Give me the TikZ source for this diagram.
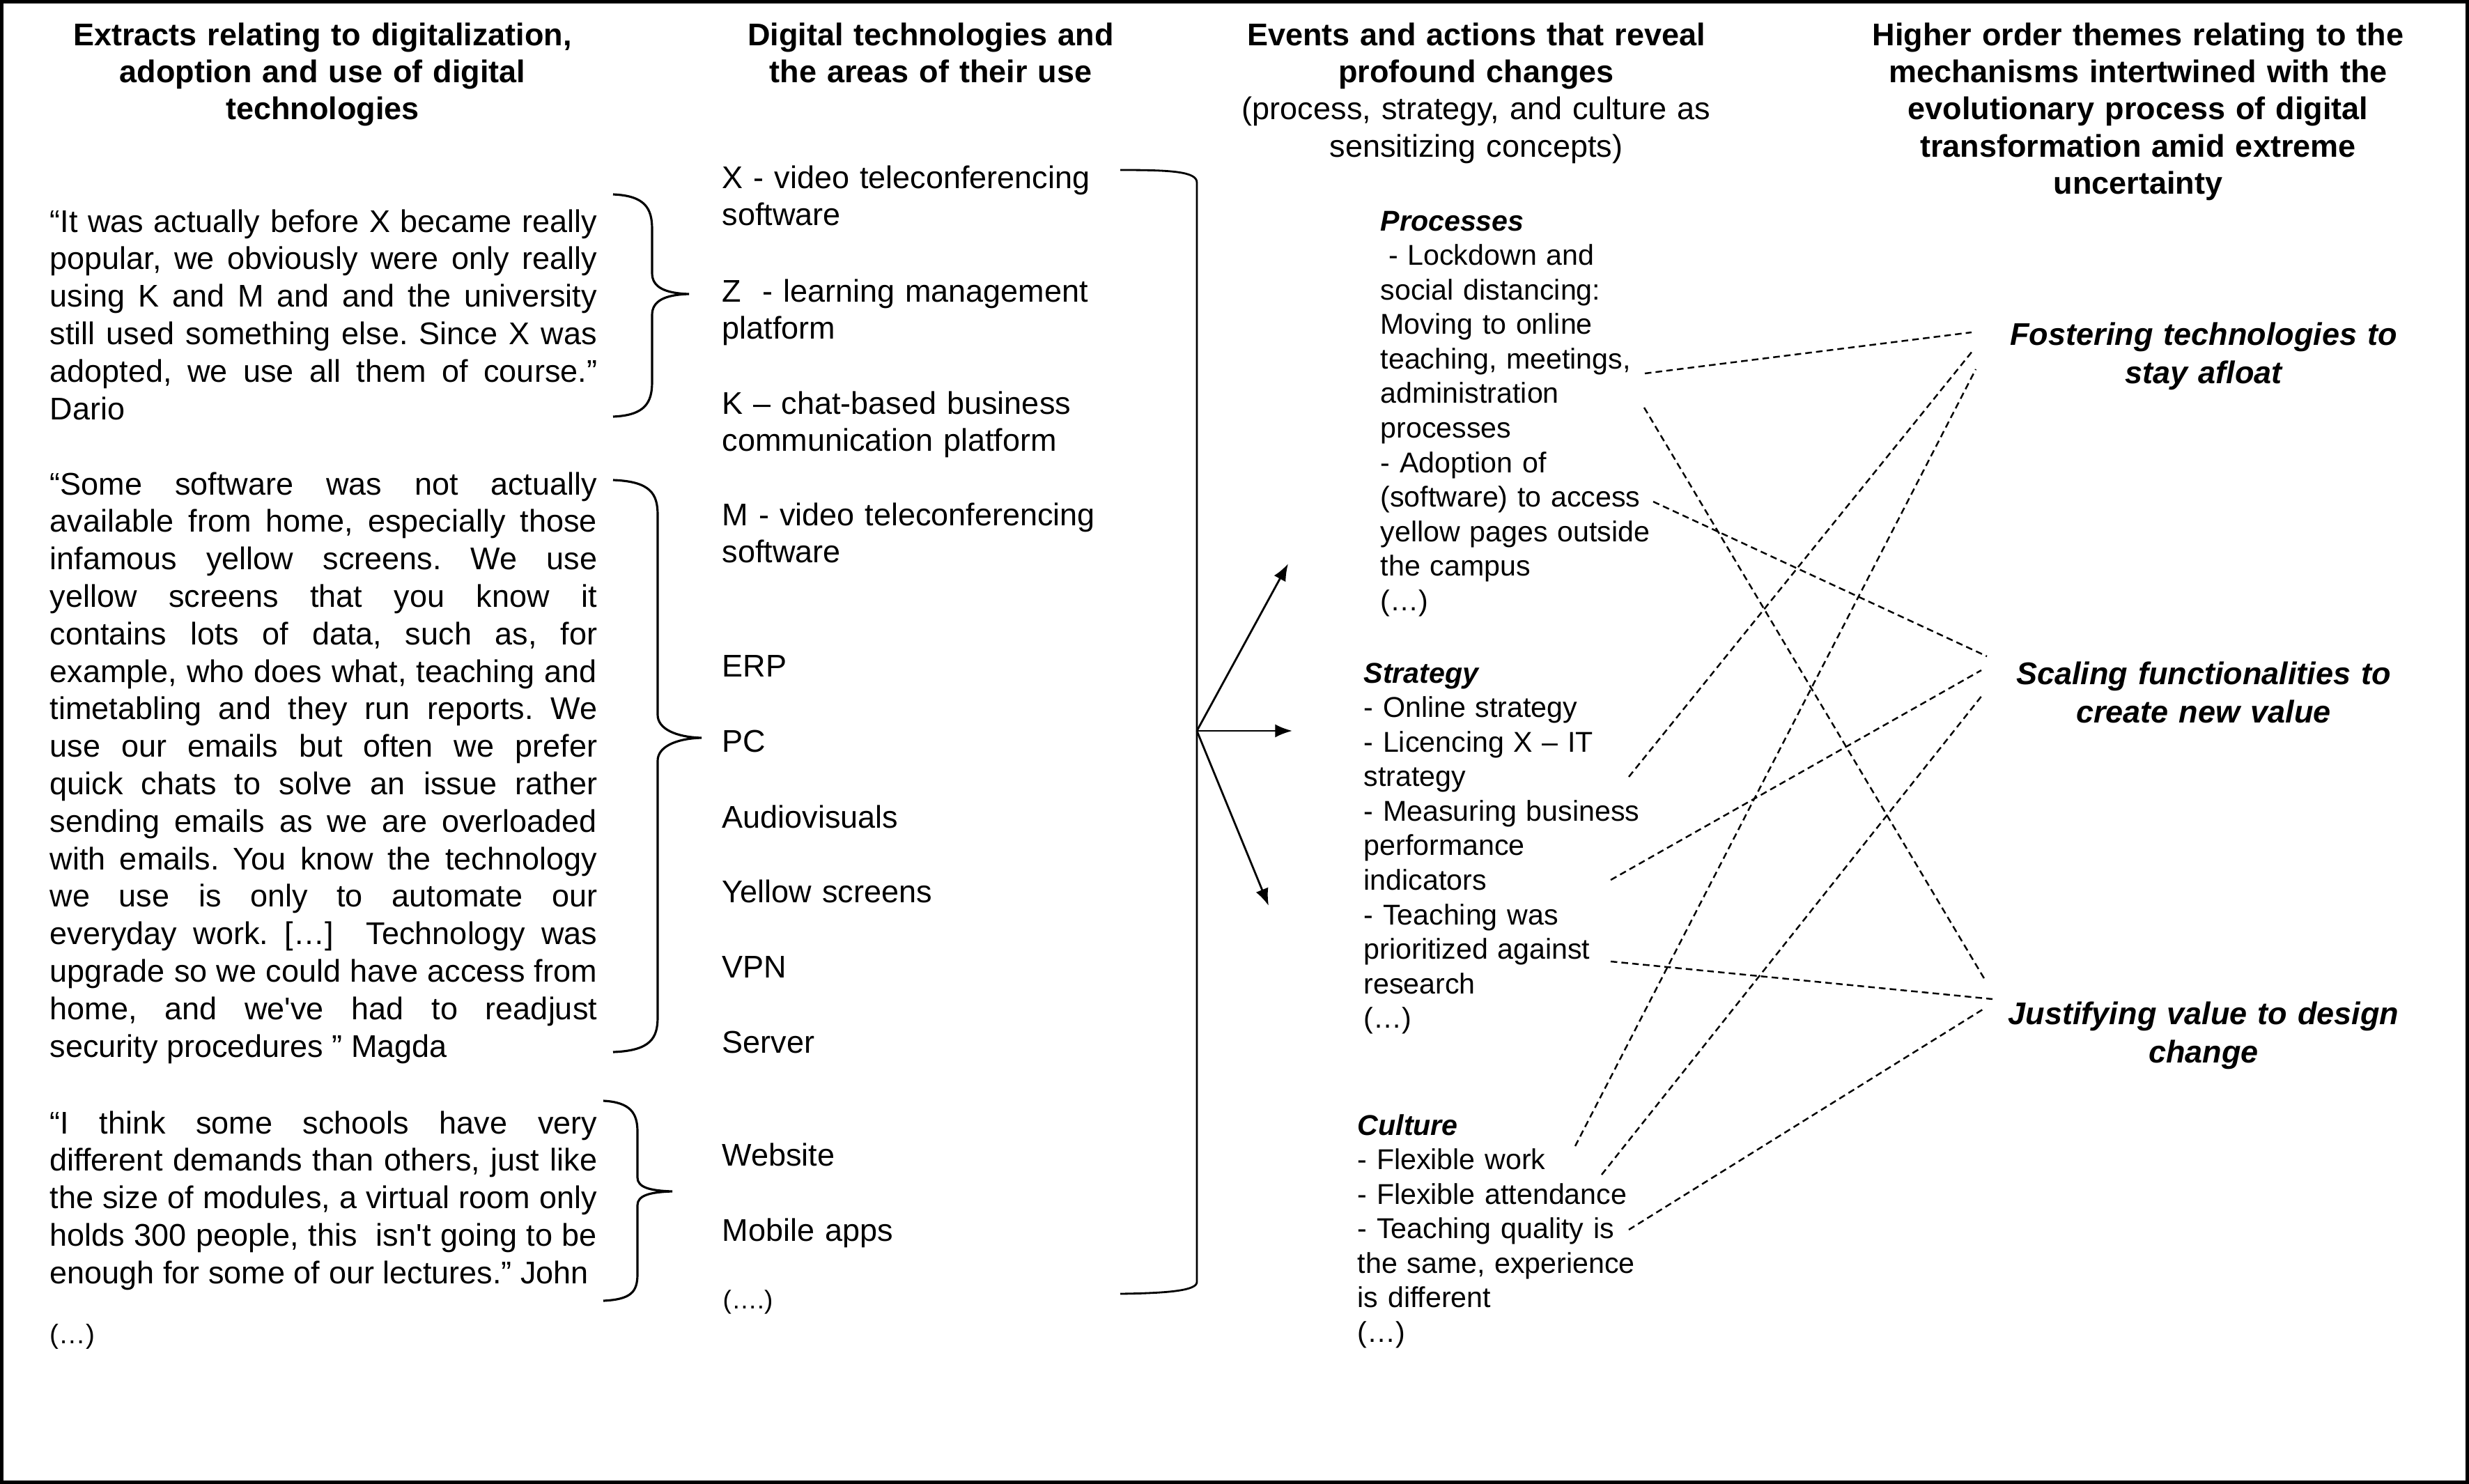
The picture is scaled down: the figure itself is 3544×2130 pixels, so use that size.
\documentclass[tikz,border=0pt]{standalone}
\usepackage{fontspec}
\setmainfont{Liberation Sans}
\usetikzlibrary{arrows.meta,positioning}
\frenchspacing
\tolerance=9999
\pretolerance=-1
\hyphenpenalty=10000
\tikzstyle{headtext} = [font=\fontsize{12.8}{15.2}\selectfont\bfseries, align=center,
    text width=9cm, anchor=base, inner sep=0pt]
\tikzstyle{quotebox} = [font=\fontsize{12.8}{15.3}\selectfont, align=justify,
    text width=7.85cm, anchor=base west, inner sep=0pt]
\tikzstyle{techitem} = [font=\fontsize{12.8}{15.1}\selectfont, align=left,
    text width=6cm, anchor=base west, inner sep=0pt]
\tikzstyle{eventbox} = [font=\fontsize{11.7}{14.1}\selectfont, align=left,
    text width=5cm, anchor=base west, inner sep=0pt]
\tikzstyle{themebox} = [font=\fontsize{12.8}{15.9}\selectfont\bfseries\itshape, align=center,
    text width=7cm, anchor=base, inner sep=0pt]
\tikzstyle{bracestroke} = [line width=0.9pt]
\tikzstyle{dashlink} = [line width=0.7pt, dash pattern=on 2.7pt off 1.7pt]
\tikzstyle{frame} = [line width=1.4pt]

\begin{document}
\begin{tikzpicture}[x=0.01cm, y=-0.01cm, >={Latex[length=7pt,width=5.4pt]}]
    \useasboundingbox (0,0) rectangle (3544,2130);
    \draw [frame] (2.5,2.5) rectangle (3541.5,2127.5);

    \node [headtext] (head1) at (463,65) {Extracts relating to digitalization,\\ adoption and use of digital\\ technologies};
    \node [headtext] (head2) at (1336,65) {Digital technologies and\\ the areas of their use};
    \node [headtext] (head3) at (2119,65) {Events and actions that reveal\\ profound changes\\ \mdseries (process, strategy, and culture as\\ sensitizing concepts)};
    \node [headtext] (head4) at (3069,65) {Higher order themes relating to the\\ mechanisms intertwined with the\\ evolutionary process of digital\\ transformation amid extreme\\ uncertainty};

    \node [quotebox] (dario) at (71,333) {“It was actually before X became really\linebreak
        popular, we obviously were only really\linebreak
        using K and M and and the university\linebreak
        still used something else. Since X was\linebreak
        adopted, we use all them of course.”\linebreak
        Dario};
    \node [quotebox] (magda) at (71,710) {“Some software was not actually\linebreak
        available from home, especially those\linebreak
        infamous yellow screens. We use\linebreak
        yellow screens that you know it\linebreak
        contains lots of data, such as, for\linebreak
        example, who does what, teaching and\linebreak
        timetabling and they run reports. We\linebreak
        use our emails but often we prefer\linebreak
        quick chats to solve an issue rather\linebreak
        sending emails as we are overloaded\linebreak
        with emails. You know the technology\linebreak
        we use is only to automate our\linebreak
        everyday work. […]\ \ Technology was\linebreak
        upgrade so we could have access from\linebreak
        home, and we\textquotesingle ve had to readjust\linebreak
        security procedures ” Magda};
    \node [quotebox] (john) at (71,1627) {“I think some schools have very\linebreak
        different demands than others, just like\linebreak
        the size of modules, a virtual room only\linebreak
        holds 300 people, this\ \ isn\textquotesingle t going to be\linebreak
        enough for some of our lectures.” John};
    \node [quotebox, font=\fontsize{11}{13}\selectfont] (moreq) at (71,1928) {(…)};

    \draw [bracestroke] (880,279) .. controls (926,281) and (936,299) .. (936,329) -- (936,392)
        .. controls (936,412) and (954,421) .. (989,422) .. controls (954,423) and (936,432) .. (936,452)
        -- (936,548) .. controls (936,578) and (926,596) .. (880,598);
    \draw [bracestroke] (880,689) .. controls (934,691) and (944,709) .. (944,739) -- (944,1026)
        .. controls (944,1046) and (970,1058) .. (1007,1059) .. controls (970,1060) and (944,1072) .. (944,1092)
        -- (944,1460) .. controls (944,1490) and (934,1508) .. (880,1510);
    \draw [bracestroke] (866,1580) .. controls (905,1582) and (915,1598) .. (915,1624) -- (915,1690)
        .. controls (915,1704) and (932,1709) .. (965,1710) .. controls (932,1711) and (915,1716) .. (915,1730)
        -- (915,1829) .. controls (915,1855) and (905,1865) .. (866,1867);

    \node [techitem] (xsoft) at (1036,270) {X - video teleconferencing\\ software};
    \node [techitem] (zlms) at (1036,433) {Z\ \ - learning management\\ platform};
    \node [techitem] (kchat) at (1036,594) {K – chat-based business\\ communication platform};
    \node [techitem] (msoft) at (1036,754) {M - video teleconferencing\\ software};
    \node [techitem] (erp) at (1036,971) {ERP};
    \node [techitem] (pc) at (1036,1079) {PC};
    \node [techitem] (av) at (1036,1188) {Audiovisuals};
    \node [techitem] (yellow) at (1036,1295) {Yellow screens};
    \node [techitem] (vpn) at (1036,1403) {VPN};
    \node [techitem] (server) at (1036,1511) {Server};
    \node [techitem] (web) at (1036,1673) {Website};
    \node [techitem] (apps) at (1036,1781) {Mobile apps};
    \node [techitem, font=\fontsize{10.5}{12}\selectfont] (moret) at (1037,1878) {(….)};

    \draw [line width=0.8pt] (1608,244) .. controls (1680,244) and (1718,246) .. (1718,262)
        -- (1718,1840) .. controls (1718,1852) and (1680,1856) .. (1608,1857);
    \coordinate (hub) at (1718,1049);
    \coordinate (toproc) at (1849,809);
    \coordinate (tostrat) at (1855,1049);
    \coordinate (tocult) at (1821,1300);
    \draw [->,line width=0.8pt] (hub) -- (toproc);
    \draw [->,line width=0.8pt] (hub) -- (tostrat);
    \draw [->,line width=0.8pt] (hub) -- (tocult);

    \node [eventbox] (proc) at (1981,331) {\textbf{\textit{Processes}}\\
        \hspace*{0.28em}- Lockdown and\\ social distancing:\\ Moving to online\\
        teaching, meetings,\\ administration\\ processes\\ - Adoption of\\
        (software) to access\\ yellow pages outside\\ the campus\\ (…)};
    \node [eventbox] (strat) at (1957,980) {\textbf{\textit{Strategy}}\\
        - Online strategy\\ - Licencing X – IT\\ strategy\\ - Measuring business\\
        performance\\ indicators\\ - Teaching was\\ prioritized against\\ research\\ (…)};
    \node [eventbox] (cult) at (1948,1629) {\textbf{\textit{Culture}}\\
        - Flexible work\\ - Flexible attendance\\ - Teaching quality is\\
        the same, experience\\ is different\\ (…)};

    \node [themebox] (foster) at (3163,495) {Fostering technologies to\\ stay afloat};
    \node [themebox] (scale) at (3163,982) {Scaling functionalities to\\ create new value};
    \node [themebox] (justify) at (3163,1470) {Justifying value to design\\ change};

    \coordinate (pr1) at (2361,536);
    \coordinate (pr2) at (2360,585);
    \coordinate (pr3) at (2373,720);
    \coordinate (st1) at (2338,1115);
    \coordinate (st2) at (2312,1263);
    \coordinate (st3) at (2312,1380);
    \coordinate (cu1) at (2261,1645);
    \coordinate (cu2) at (2299,1686);
    \coordinate (cu3) at (2338,1765);
    \coordinate (fo1) at (2830,477);
    \coordinate (fo2) at (2832,503);
    \coordinate (fo3) at (2836,530);
    \coordinate (sc1) at (2852,942);
    \coordinate (sc2) at (2844,962);
    \coordinate (sc3) at (2846,997);
    \coordinate (ju1) at (2849,1406);
    \coordinate (ju2) at (2860,1434);
    \coordinate (ju3) at (2849,1447);
    \draw [dashlink] (pr1) -- (fo1);
    \draw [dashlink] (pr2) -- (ju1);
    \draw [dashlink] (pr3) -- (sc1);
    \draw [dashlink] (st1) -- (fo2);
    \draw [dashlink] (st2) -- (sc2);
    \draw [dashlink] (st3) -- (ju2);
    \draw [dashlink] (cu1) -- (fo3);
    \draw [dashlink] (cu2) -- (sc3);
    \draw [dashlink] (cu3) -- (ju3);
\end{tikzpicture}
\end{document}
